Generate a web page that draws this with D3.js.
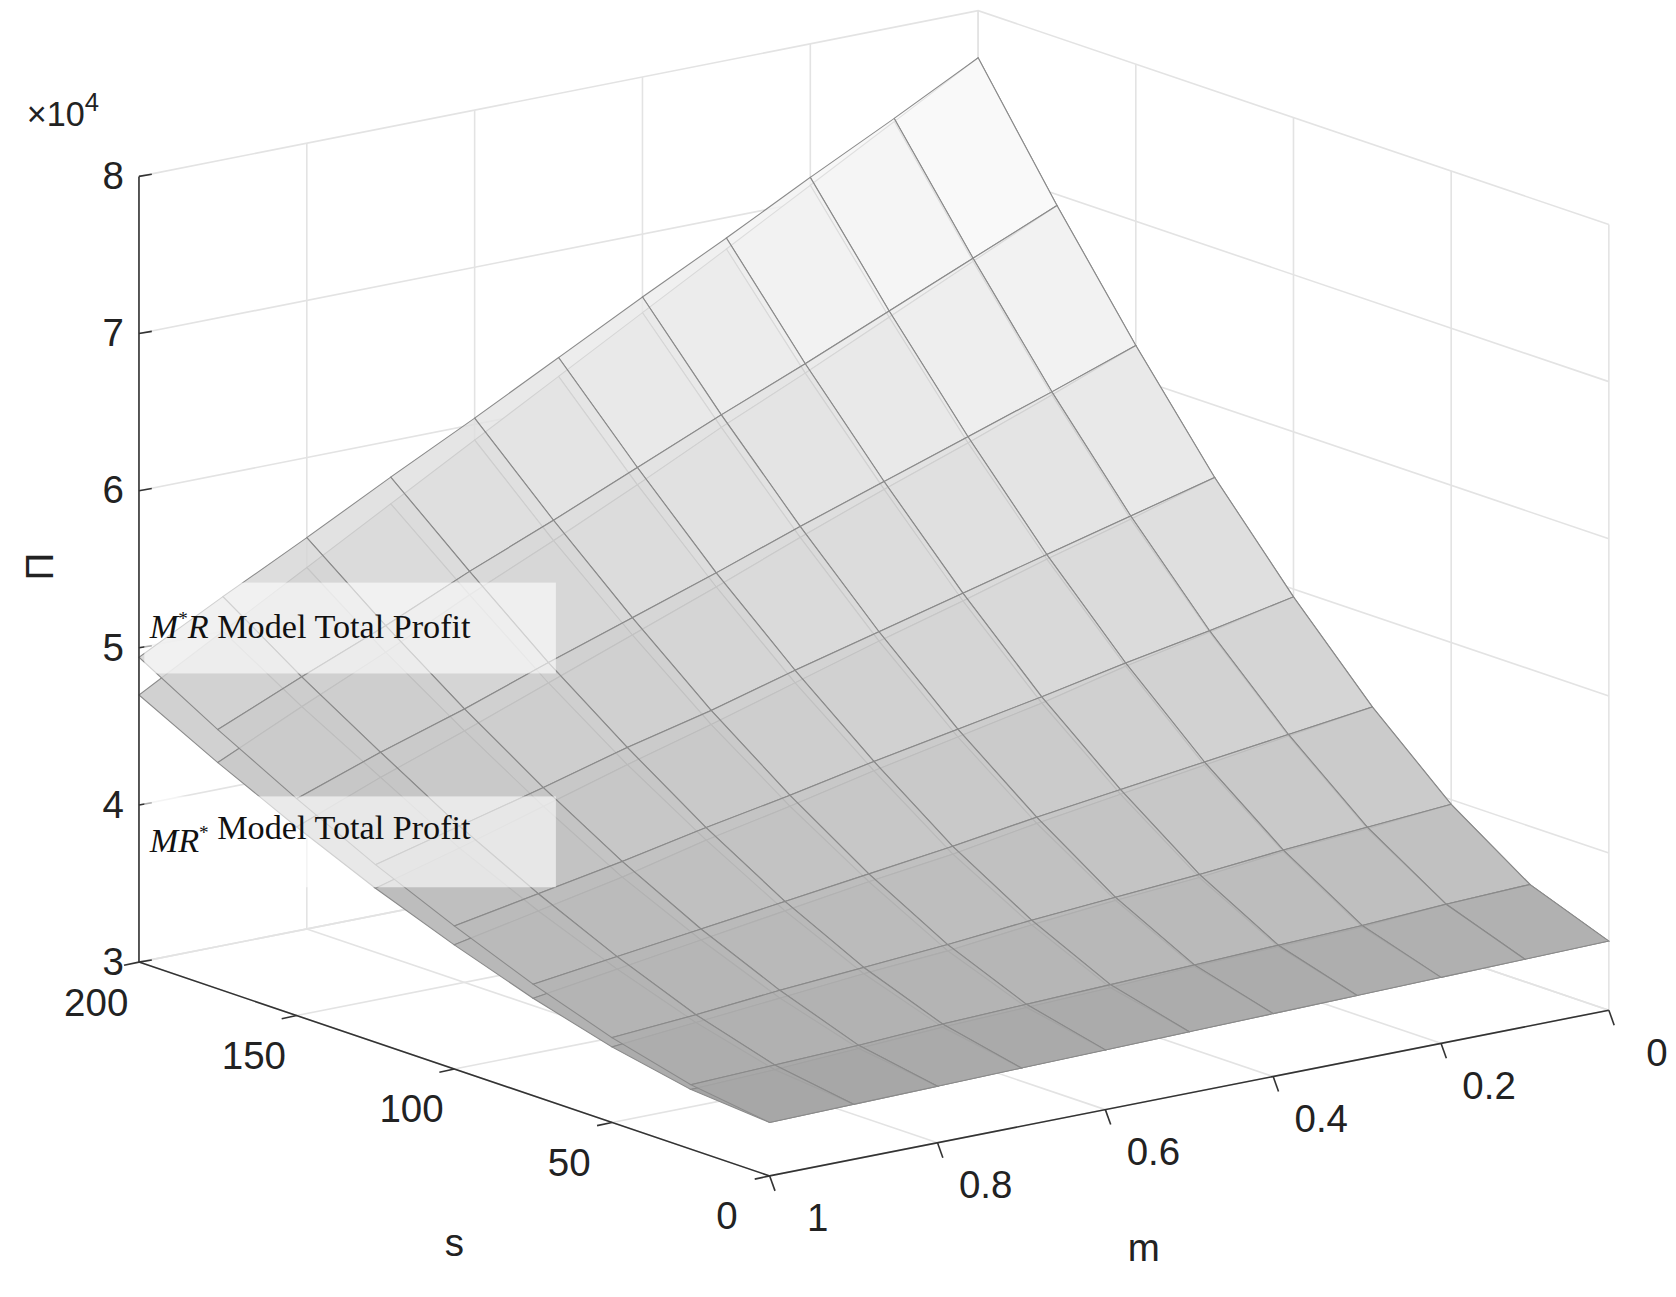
<!DOCTYPE html>
<html><head><meta charset="utf-8">
<script src="https://cdn.jsdelivr.net/npm/d3@7"></script>
<style>body{margin:0;background:#fff}</style>
</head><body>
<svg id="chart" width="1676" height="1297"></svg>
<script>
// grid axes
const sValues = [0, 25, 50, 75, 100, 125, 150, 175, 200];
const mValues = [0, 0.1, 0.2, 0.3, 0.4, 0.5, 0.6, 0.7, 0.8, 0.9, 1];
// total profit (x10^4), one row per m value, columns follow sValues
const upperProfit = [
  [3.44, 3.63, 3.97, 4.42, 4.95, 5.54, 6.21, 6.93, 7.70],
  [3.43, 3.61, 3.93, 4.35, 4.84, 5.40, 6.02, 6.70, 7.42],
  [3.42, 3.58, 3.89, 4.28, 4.74, 5.26, 5.84, 6.47, 7.15],
  [3.41, 3.56, 3.84, 4.21, 4.63, 5.12, 5.66, 6.24, 6.87],
  [3.40, 3.54, 3.80, 4.14, 4.53, 4.98, 5.48, 6.02, 6.60],
  [3.39, 3.52, 3.76, 4.06, 4.43, 4.84, 5.29, 5.79, 6.32],
  [3.38, 3.50, 3.71, 3.99, 4.32, 4.69, 5.11, 5.56, 6.04],
  [3.37, 3.48, 3.67, 3.92, 4.22, 4.56, 4.93, 5.34, 5.77],
  [3.36, 3.45, 3.63, 3.85, 4.11, 4.41, 4.74, 5.10, 5.49],
  [3.35, 3.43, 3.58, 3.78, 4.01, 4.27, 4.57, 4.88, 5.22],
  [3.34, 3.41, 3.54, 3.71, 3.91, 4.13, 4.38, 4.65, 4.94]
];
const lowerProfit = [
  [3.44, 3.63, 3.97, 4.42, 4.95, 5.54, 6.21, 6.93, 7.70],
  [3.43, 3.61, 3.92, 4.34, 4.83, 5.38, 6.00, 6.68, 7.40],
  [3.42, 3.57, 3.88, 4.26, 4.72, 5.23, 5.80, 6.43, 7.10],
  [3.41, 3.55, 3.82, 4.18, 4.59, 5.07, 5.61, 6.18, 6.80],
  [3.40, 3.53, 3.78, 4.10, 4.48, 4.92, 5.41, 5.94, 6.50],
  [3.39, 3.50, 3.73, 4.01, 4.37, 4.76, 5.20, 5.68, 6.20],
  [3.38, 3.48, 3.67, 3.94, 4.25, 4.60, 5.00, 5.43, 5.90],
  [3.37, 3.46, 3.63, 3.86, 4.14, 4.45, 4.80, 5.19, 5.60],
  [3.36, 3.43, 3.58, 3.78, 4.01, 4.29, 4.60, 4.93, 5.30],
  [3.35, 3.40, 3.53, 3.70, 3.90, 4.13, 4.41, 4.69, 5.00],
  [3.34, 3.38, 3.48, 3.62, 3.79, 3.98, 4.20, 4.44, 4.70]
];
const zTicks = [3, 4, 5, 6, 7, 8];
const sTicks = [0, 50, 100, 150, 200];
const mTicks = [0, 0.2, 0.4, 0.6, 0.8, 1];

const svg = d3.select("#chart").append("g").attr("transform", "scale(1.069)");
const origin = { x: 720, y: 1100 }; // s=0, m=1, z=3

const sX = d3.scaleLinear().domain([0, 200]).range([0, -590]);
const sY = d3.scaleLinear().domain([0, 200]).range([0, -200]);
const mX = d3.scaleLinear().domain([1, 0]).range([0, 785]);
const mY = d3.scaleLinear().domain([1, 0]).range([0, -155]);
const zY = d3.scaleLinear().domain([3, 8]).range([0, -735]);

function proj(s, m, z) {
  return [origin.x + sX(s) + mX(m), origin.y + sY(s) + mY(m) + zY(z)];
}
const line = d3.line();
const grid = svg.append("g").attr("stroke", "#e3e3e3").attr("stroke-width", 1.5).attr("fill", "none");

// back walls
zTicks.forEach(z => {
  grid.append("path").attr("d", line([proj(200, 1, z), proj(200, 0, z), proj(0, 0, z)]));
});
mTicks.forEach(m => {
  grid.append("path").attr("d", line([proj(200, m, 3), proj(200, m, 8)]));
  grid.append("path").attr("d", line([proj(0, m, 3), proj(200, m, 3)]));
});
sTicks.forEach(s => {
  grid.append("path").attr("d", line([proj(s, 0, 3), proj(s, 0, 8)]));
  grid.append("path").attr("d", line([proj(s, 1, 3), proj(s, 0, 3)]));
});

// surfaces
function quads(table) {
  const out = [];
  for (let i = 0; i < mValues.length - 1; i++) {
    for (let j = 0; j < sValues.length - 1; j++) {
      const pts = [
        proj(sValues[j], mValues[i], table[i][j]),
        proj(sValues[j + 1], mValues[i], table[i][j + 1]),
        proj(sValues[j + 1], mValues[i + 1], table[i + 1][j + 1]),
        proj(sValues[j], mValues[i + 1], table[i + 1][j])
      ];
      const depth = sValues[j] + (1 - mValues[i]) * 200;
      out.push({ pts, depth, area: Math.abs(d3.polygonArea(pts)) });
    }
  }
  return out.sort((a, b) => b.depth - a.depth);
}
const lowQ = quads(lowerProfit), upQ = quads(upperProfit);
const areaExt = d3.extent(upQ.concat(lowQ), d => d.area);
const shade = d3.scaleLinear().domain(areaExt).range(["#a4a4a4", "#fbfbfb"]).clamp(true);

function drawSurface(q, opacity) {
  const g = svg.append("g");
  g.selectAll("path").data(q).enter().append("path")
    .attr("d", d => line(d.pts) + "Z")
    .attr("fill", d => shade(d.area))
    .attr("fill-opacity", opacity)
    .attr("stroke", "#8a8a8a")
    .attr("stroke-width", 1);
}
drawSurface(lowQ, 1);
drawSurface(upQ, 0.8);

// axes lines
const ax = svg.append("g").attr("stroke", "#333").attr("stroke-width", 1.5).attr("fill", "none");
ax.append("path").attr("d", line([proj(200, 1, 3), proj(200, 1, 8)]));
ax.append("path").attr("d", line([proj(200, 1, 3), proj(0, 1, 3), proj(0, 0, 3)]));

const font = "Liberation Sans, Arial, sans-serif";
const labels = svg.append("g").attr("font-family", font).attr("font-size", 36).attr("fill", "#222");
zTicks.forEach(z => {
  const p = proj(200, 1, z);
  ax.append("path").attr("d", line([p, [p[0] + 12, p[1] - 2]]));
  labels.append("text").attr("x", p[0] - 14).attr("y", p[1] + 12).attr("text-anchor", "end").text(z);
});
sTicks.forEach(s => {
  const p = proj(s, 1, 3);
  ax.append("path").attr("d", line([p, [p[0] - 14, p[1] + 3]]));
  labels.append("text").attr("x", p[0] - 40).attr("y", p[1] + 50).attr("text-anchor", "middle").text(s);
});
mTicks.forEach(m => {
  const p = proj(0, m, 3);
  ax.append("path").attr("d", line([p, [p[0] + 5, p[1] + 14]]));
  labels.append("text").attr("x", p[0] + 45).attr("y", p[1] + 52).attr("text-anchor", "middle").text(m);
});
labels.append("text").attr("x", 425).attr("y", 1175).attr("text-anchor", "middle").text("s");
labels.append("text").attr("x", 1070).attr("y", 1180).attr("text-anchor", "middle").text("m");
labels.append("text").attr("transform", "translate(50,530) rotate(-90)").attr("text-anchor", "middle").text("Π");
const sci = labels.append("text").attr("x", 25).attr("y", 118).attr("font-size", 32);
sci.append("tspan").text("×10");
sci.append("tspan").attr("dy", -14).attr("font-size", 24).text("4");

// annotations
const notes = [
  { y: 545, main: "M", sup: "*", rest: "R", suffix: " Model Total Profit" },
  { y: 745, main: "MR", sup: "*", rest: "", suffix: " Model Total Profit" }
];
notes.forEach(n => {
  svg.append("rect").attr("x", 135).attr("y", n.y).attr("width", 385).attr("height", 85)
    .attr("fill", "#fff").attr("fill-opacity", 0.6);
  const t = svg.append("text").attr("x", 140).attr("y", n.y + 52)
    .attr("font-family", "Liberation Serif, Times New Roman, serif").attr("font-size", 32).attr("fill", "#111");
  t.append("tspan").attr("font-style", "italic").text(n.main);
  t.append("tspan").attr("dy", -12).attr("font-size", 18).text(n.sup);
  t.append("tspan").attr("dy", 12).attr("font-style", "italic").text(n.rest);
  t.append("tspan").text(n.suffix);
});
</script>
</body></html>
